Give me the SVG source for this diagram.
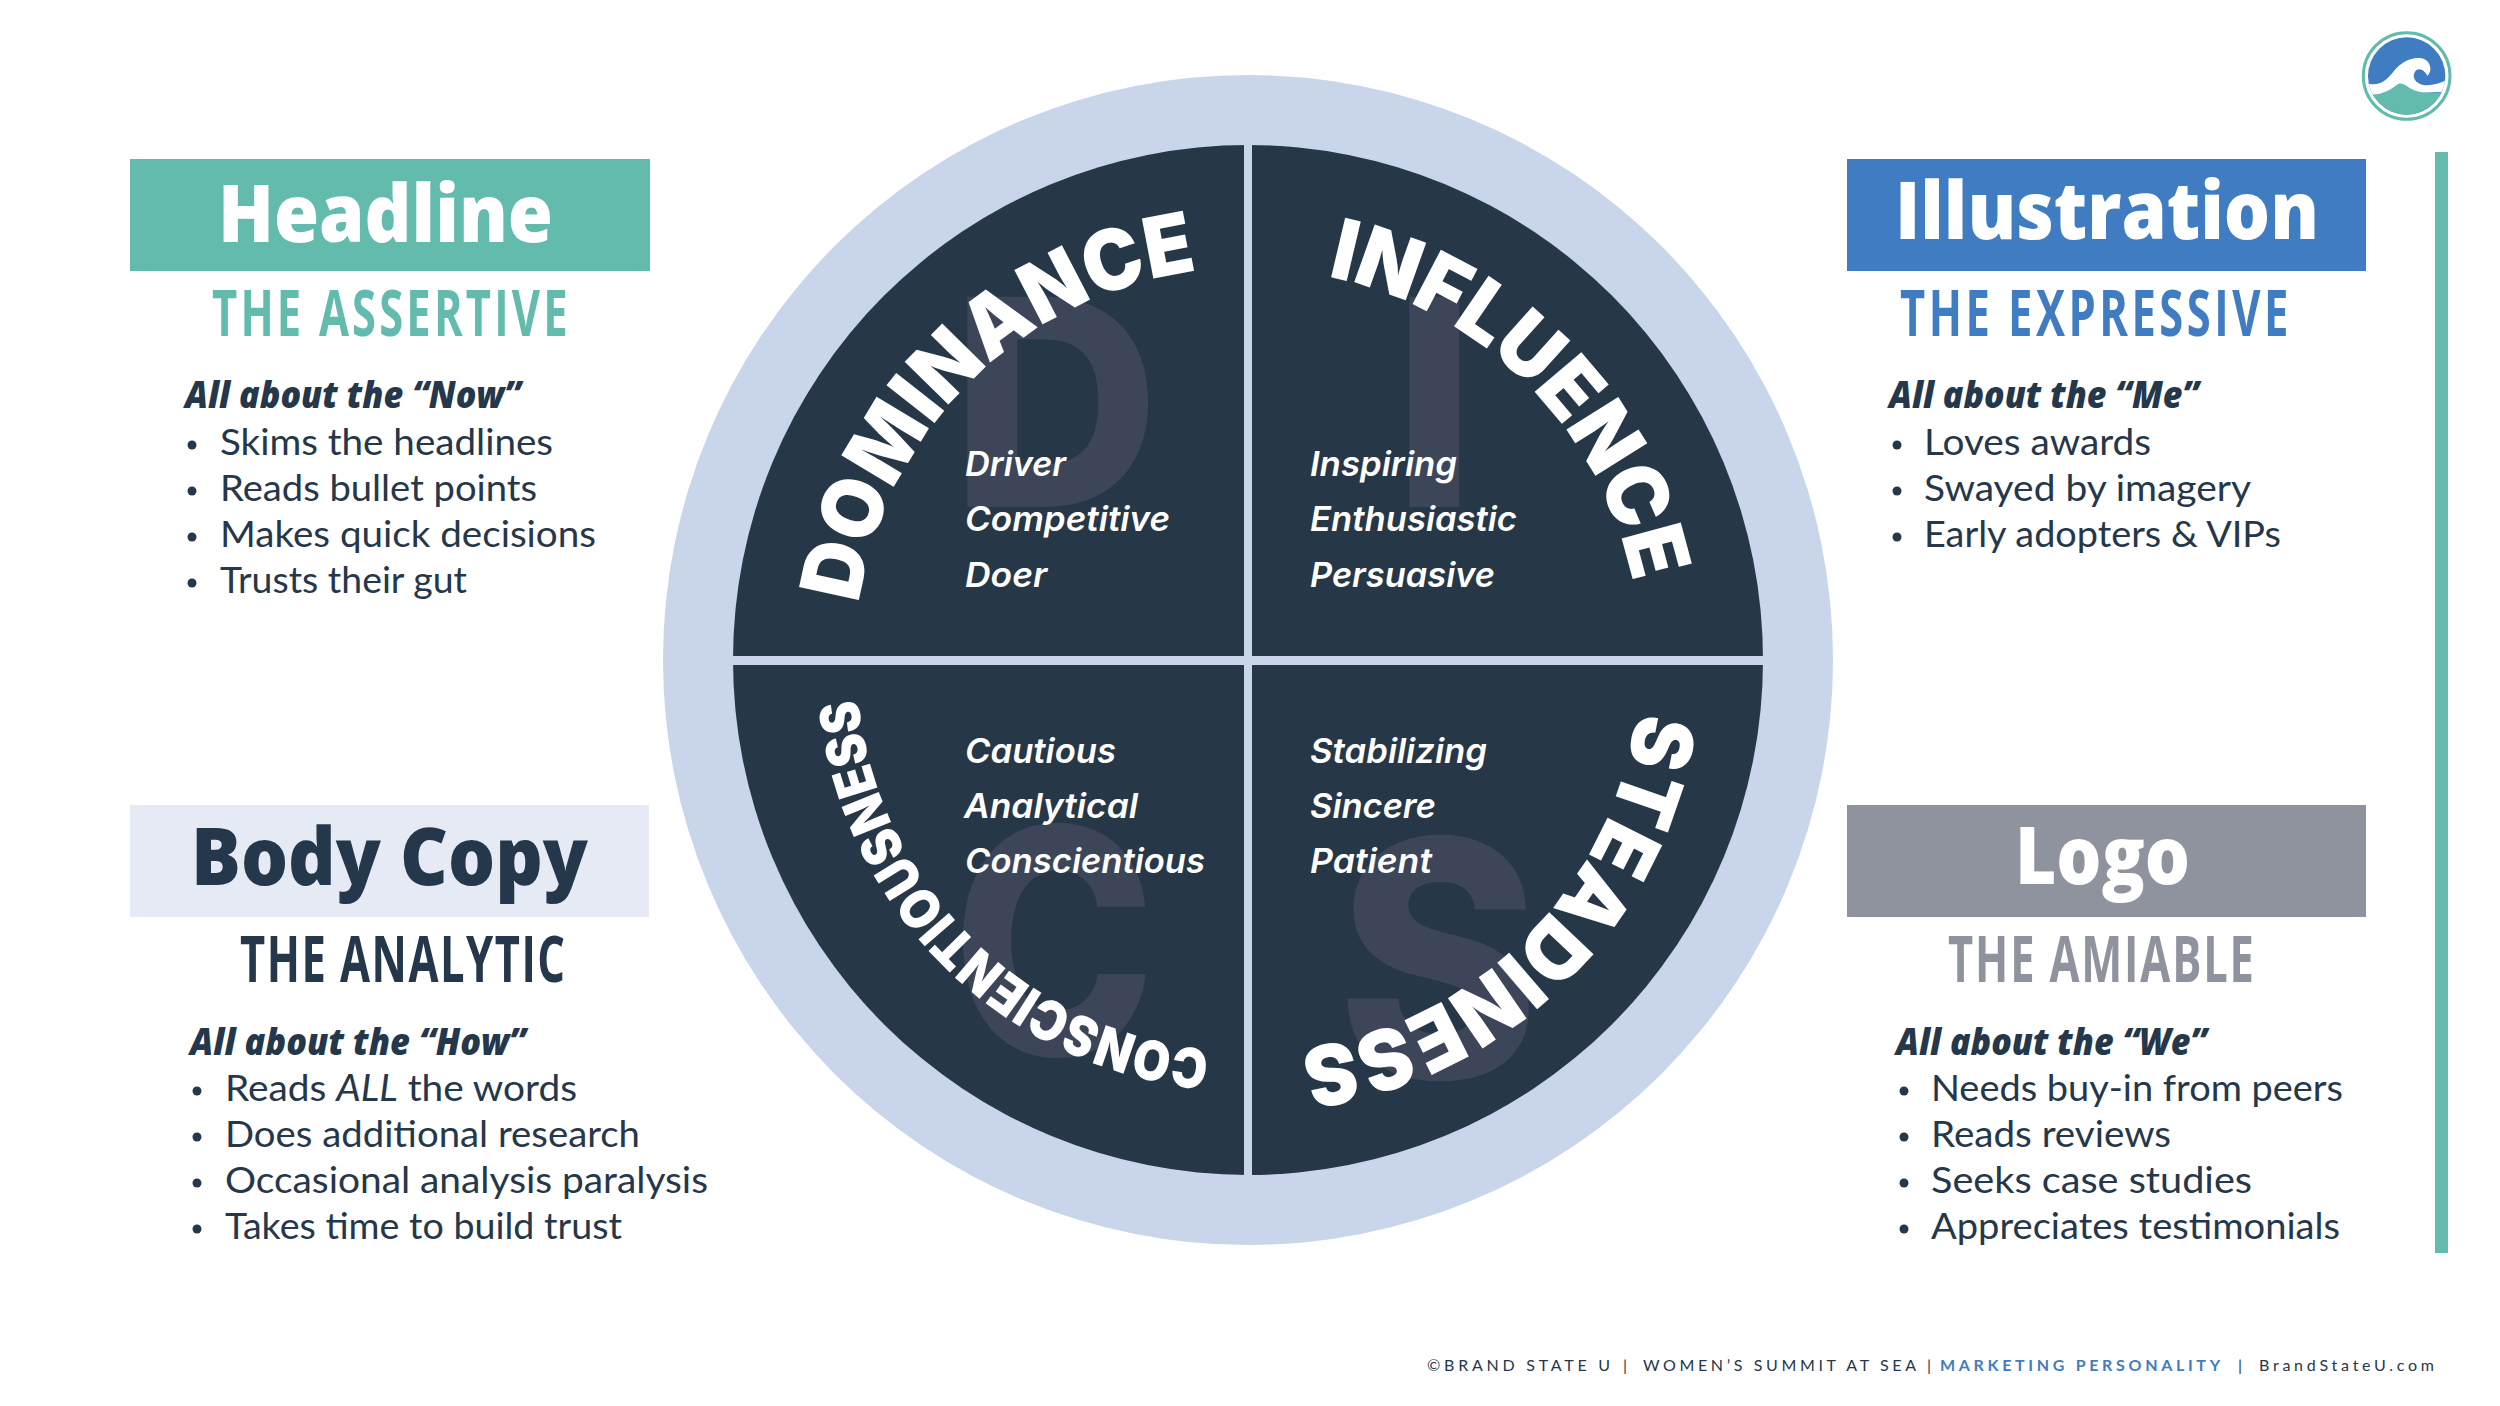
<svg xmlns="http://www.w3.org/2000/svg" xmlns:xlink="http://www.w3.org/1999/xlink" width="2500" height="1406" viewBox="0 0 2500 1406">
<style>
.hd{font-family:"Open Sans","Liberation Sans",sans-serif;font-weight:800;font-size:80px}
.sub{font-family:"Open Sans","Liberation Sans",sans-serif;font-weight:700;font-size:64px}
.about{font-family:"Open Sans","Liberation Sans",sans-serif;font-weight:800;font-style:italic;font-size:37px;fill:#25374a}
.li{font-family:"Lato","Open Sans",sans-serif;font-weight:400;font-size:37px;fill:#25374a}
.it{font-family:"Inter","Open Sans",sans-serif;font-weight:600;font-style:italic;font-size:34px;fill:#fff}
.arc{font-family:"Inter","Open Sans",sans-serif;font-weight:900;fill:#fff}
.ghost{font-family:"Inter","Open Sans",sans-serif;font-weight:800;fill:#3d4658}
.ft{font-family:"Lato","Open Sans",sans-serif;font-size:16px;fill:#25374a}
.b{fill:#25374a}
</style>
<defs>
<path id="pD" d="M859 604A392 392 0 0 1 1197 271"/>
<path id="pI" d="M1327.5 276.6A392 392 0 0 1 1632.9 582.5"/>
<path id="pS" d="M1636.7 711.6A392 392 0 0 1 1300.6 1048.6"/>
<path id="pC" d="M1210 1050A392 392 0 0 1 858 697"/>
<clipPath id="lc"><circle cx="200" cy="168" r="116"/></clipPath>
</defs>
<rect width="2500" height="1406" fill="#fff"/>
<g id="wheel">
<circle cx="1248" cy="660" r="585" fill="#c8d5ea"/>
<circle cx="1248" cy="660" r="515" fill="#263748"/>
<text class="ghost" x="951" y="507" font-size="289">D</text>
<text class="ghost" x="1393" y="507" font-size="289">I</text>
<text class="ghost" transform="translate(952 1055) scale(.87 1)" font-size="315">C</text>
<text class="ghost" transform="translate(1337 1078) scale(.93 1)" font-size="330">S</text>
<rect x="1244" y="140" width="8" height="1040" fill="#c8d5ea"/>
<rect x="728" y="656" width="1040" height="9" fill="#c8d5ea"/>
</g>
<g id="dominance">
<text class="arc" font-size="84"><textPath href="#pD" textLength="510" lengthAdjust="spacingAndGlyphs">DOMINANCE</textPath></text>
<text class="it" x="965" y="476" textLength="101" lengthAdjust="spacingAndGlyphs">Driver</text>
<text class="it" x="965" y="531" textLength="205" lengthAdjust="spacingAndGlyphs">Competitive</text>
<text class="it" x="965" y="587" textLength="82" lengthAdjust="spacingAndGlyphs">Doer</text>
</g>
<g id="influence">
<text class="arc" font-size="84"><textPath href="#pI" textLength="458" lengthAdjust="spacingAndGlyphs">INFLUENCE</textPath></text>
<text class="it" x="1310" y="476" textLength="147" lengthAdjust="spacingAndGlyphs">Inspiring</text>
<text class="it" x="1310" y="531" textLength="207" lengthAdjust="spacingAndGlyphs">Enthusiastic</text>
<text class="it" x="1310" y="587" textLength="185" lengthAdjust="spacingAndGlyphs">Persuasive</text>
</g>
<g id="steadiness">
<text class="arc" font-size="84"><textPath href="#pS" textLength="512" lengthAdjust="spacingAndGlyphs">STEADINESS</textPath></text>
<text class="it" x="1310" y="763" textLength="177" lengthAdjust="spacingAndGlyphs">Stabilizing</text>
<text class="it" x="1310" y="818" textLength="126" lengthAdjust="spacingAndGlyphs">Sincere</text>
<text class="it" x="1310" y="873" textLength="122" lengthAdjust="spacingAndGlyphs">Patient</text>
</g>
<g id="conscientiousness">
<text class="arc" font-size="55"><textPath href="#pC" textLength="538" lengthAdjust="spacingAndGlyphs">CONSCIENTIOUSNESS</textPath></text>
<text class="it" x="965" y="763" textLength="151" lengthAdjust="spacingAndGlyphs">Cautious</text>
<text class="it" x="964" y="818" textLength="174" lengthAdjust="spacingAndGlyphs">Analytical</text>
<text class="it" x="965" y="873" textLength="240" lengthAdjust="spacingAndGlyphs">Conscientious</text>
</g>
<g id="card-headline">
<rect x="130" y="159" width="520" height="112" fill="#63bbae"/>
<text class="hd" x="218" y="242" fill="#fff" textLength="335" lengthAdjust="spacingAndGlyphs">Headline</text>
<text class="sub" transform="translate(212 336) scale(.68 1)" fill="#63bbae" textLength="523" lengthAdjust="spacing">THE ASSERTIVE</text>
<text class="about" x="185" y="408" textLength="336" lengthAdjust="spacingAndGlyphs">All about the “Now”</text>
<circle class="b" cx="192" cy="445" r="4.5"/><text class="li" x="220" y="455" textLength="333" lengthAdjust="spacingAndGlyphs">Skims the headlines</text>
<circle class="b" cx="192" cy="491" r="4.5"/><text class="li" x="220" y="501" textLength="317" lengthAdjust="spacingAndGlyphs">Reads bullet points</text>
<circle class="b" cx="192" cy="537" r="4.5"/><text class="li" x="220" y="547" textLength="376" lengthAdjust="spacingAndGlyphs">Makes quick decisions</text>
<circle class="b" cx="192" cy="583" r="4.5"/><text class="li" x="220" y="593" textLength="247" lengthAdjust="spacingAndGlyphs">Trusts their gut</text>
</g>
<g id="card-body">
<rect x="130" y="805" width="519" height="112" fill="#e5eaf5"/>
<text class="hd" x="191" y="885" fill="#25374a" textLength="397" lengthAdjust="spacingAndGlyphs">Body Copy</text>
<text class="sub" transform="translate(240 982) scale(.68 1)" fill="#25374a" textLength="478" lengthAdjust="spacing">THE ANALYTIC</text>
<text class="about" x="190" y="1055" textLength="336" lengthAdjust="spacingAndGlyphs">All about the “How”</text>
<circle class="b" cx="197" cy="1091" r="4.5"/><text class="li" x="225" y="1101" textLength="352" lengthAdjust="spacingAndGlyphs">Reads <tspan font-style="italic">ALL</tspan> the words</text>
<circle class="b" cx="197" cy="1137" r="4.5"/><text class="li" x="225" y="1147" textLength="415" lengthAdjust="spacingAndGlyphs">Does additional research</text>
<circle class="b" cx="197" cy="1183" r="4.5"/><text class="li" x="225" y="1193" textLength="483" lengthAdjust="spacingAndGlyphs">Occasional analysis paralysis</text>
<circle class="b" cx="197" cy="1229" r="4.5"/><text class="li" x="225" y="1239" textLength="397" lengthAdjust="spacingAndGlyphs">Takes time to build trust</text>
</g>
<g id="card-illustration">
<rect x="1847" y="159" width="519" height="112" fill="#3f7cc1"/>
<text class="hd" x="1895" y="239" fill="#fff" textLength="424" lengthAdjust="spacingAndGlyphs">Illustration</text>
<text class="sub" transform="translate(1900 336) scale(.68 1)" fill="#3f7cc1" textLength="571" lengthAdjust="spacing">THE EXPRESSIVE</text>
<text class="about" x="1889" y="408" textLength="310" lengthAdjust="spacingAndGlyphs">All about the “Me”</text>
<circle class="b" cx="1897" cy="445" r="4.5"/><text class="li" x="1924" y="455" textLength="227" lengthAdjust="spacingAndGlyphs">Loves awards</text>
<circle class="b" cx="1897" cy="491" r="4.5"/><text class="li" x="1924" y="501" textLength="327" lengthAdjust="spacingAndGlyphs">Swayed by imagery</text>
<circle class="b" cx="1897" cy="537" r="4.5"/><text class="li" x="1924" y="547" textLength="357" lengthAdjust="spacingAndGlyphs">Early adopters &amp; VIPs</text>
</g>
<g id="card-logo">
<rect x="1847" y="805" width="519" height="112" fill="#8f939e"/>
<text class="hd" x="2015" y="884" fill="#fff" textLength="175" lengthAdjust="spacingAndGlyphs">Logo</text>
<text class="sub" transform="translate(1948 982) scale(.68 1)" fill="#8f939e" textLength="450" lengthAdjust="spacing">THE AMIABLE</text>
<text class="about" x="1896" y="1055" textLength="311" lengthAdjust="spacingAndGlyphs">All about the “We”</text>
<circle class="b" cx="1904" cy="1091" r="4.5"/><text class="li" x="1931" y="1101" textLength="412" lengthAdjust="spacingAndGlyphs">Needs buy-in from peers</text>
<circle class="b" cx="1904" cy="1137" r="4.5"/><text class="li" x="1931" y="1147" textLength="240" lengthAdjust="spacingAndGlyphs">Reads reviews</text>
<circle class="b" cx="1904" cy="1183" r="4.5"/><text class="li" x="1931" y="1193" textLength="321" lengthAdjust="spacingAndGlyphs">Seeks case studies</text>
<circle class="b" cx="1904" cy="1229" r="4.5"/><text class="li" x="1931" y="1239" textLength="409" lengthAdjust="spacingAndGlyphs">Appreciates testimonials</text>
</g>
<rect id="side-bar" x="2435" y="152" width="13" height="1101" fill="#63bbae"/>
<g id="brand-mark" transform="translate(2340 20) scale(.3333)">
<circle cx="200" cy="168" r="130" fill="none" stroke="#63bbae" stroke-width="9"/>
<g clip-path="url(#lc)">
<rect x="70" y="40" width="260" height="260" fill="#3f7cc1"/>
<path fill="#fff" d="M80 190C120 200 140 180 160 155C185 125 215 110 245 115C270 120 280 150 262 168C255 150 235 140 225 155C215 170 225 190 250 195C275 198 300 190 320 180L320 215L80 225Z"/>
<path fill="#63bbae" d="M80 225C120 225 145 215 170 195C185 185 195 195 210 205C240 222 280 222 320 215L320 300L80 300Z"/>
</g>
</g>
<g id="footer">
<text class="ft" x="1427" y="1371" textLength="183" lengthAdjust="spacing">©BRAND STATE U</text>
<text class="ft" x="1623" y="1371">|</text>
<text class="ft" x="1643" y="1371" textLength="273" lengthAdjust="spacing">WOMEN’S SUMMIT AT SEA</text>
<text class="ft" x="1927" y="1371">|</text>
<text class="ft" x="1940" y="1371" textLength="280" lengthAdjust="spacing" style="fill:#3f7cc1;font-weight:700">MARKETING PERSONALITY</text>
<text class="ft" x="2238" y="1371">|</text>
<text class="ft" x="2259" y="1371" textLength="175" lengthAdjust="spacing">BrandStateU.com</text>
</g>
</svg>
